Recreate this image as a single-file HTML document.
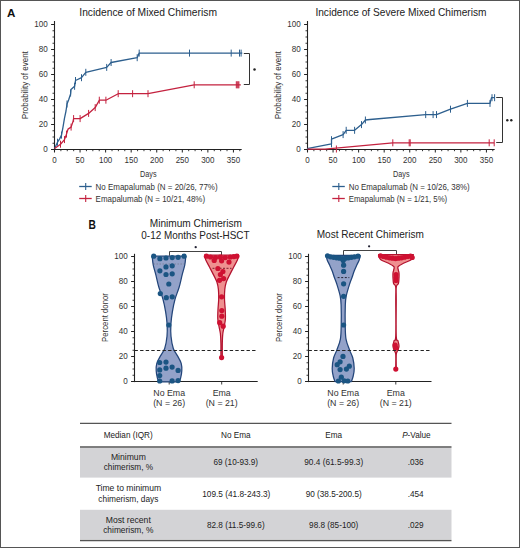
<!DOCTYPE html>
<html><head><meta charset="utf-8"><style>
html,body{margin:0;padding:0;background:#fff;}
body{width:520px;height:548px;position:relative;overflow:hidden;font-family:"Liberation Sans", sans-serif;}
</style></head><body>
<svg width="520" height="548" viewBox="0 0 520 548" style="position:absolute;left:0;top:0" font-family='"Liberation Sans", sans-serif'>
<rect x="0.5" y="0.5" width="519" height="547" fill="none" stroke="#555" stroke-width="1"/>
<text x="7.1" y="17.0" font-size="11.6" text-anchor="start" fill="#111" font-weight="bold" >A</text>
<text x="88.6" y="228.8" font-size="12.4" text-anchor="start" fill="#111" font-weight="bold" textLength="7.4" lengthAdjust="spacingAndGlyphs" >B</text>
<line x1="54.50" y1="21.00" x2="54.50" y2="151.80" stroke="#222" stroke-width="1.1" />
<line x1="51.10" y1="149.50" x2="54.50" y2="149.50" stroke="#222" stroke-width="1" />
<line x1="52.50" y1="143.25" x2="54.50" y2="143.25" stroke="#222" stroke-width="0.9" />
<line x1="52.50" y1="137.00" x2="54.50" y2="137.00" stroke="#222" stroke-width="0.9" />
<line x1="52.50" y1="130.75" x2="54.50" y2="130.75" stroke="#222" stroke-width="0.9" />
<line x1="51.10" y1="124.50" x2="54.50" y2="124.50" stroke="#222" stroke-width="1" />
<line x1="52.50" y1="118.25" x2="54.50" y2="118.25" stroke="#222" stroke-width="0.9" />
<line x1="52.50" y1="112.00" x2="54.50" y2="112.00" stroke="#222" stroke-width="0.9" />
<line x1="52.50" y1="105.75" x2="54.50" y2="105.75" stroke="#222" stroke-width="0.9" />
<line x1="51.10" y1="99.50" x2="54.50" y2="99.50" stroke="#222" stroke-width="1" />
<line x1="52.50" y1="93.25" x2="54.50" y2="93.25" stroke="#222" stroke-width="0.9" />
<line x1="52.50" y1="87.00" x2="54.50" y2="87.00" stroke="#222" stroke-width="0.9" />
<line x1="52.50" y1="80.75" x2="54.50" y2="80.75" stroke="#222" stroke-width="0.9" />
<line x1="51.10" y1="74.50" x2="54.50" y2="74.50" stroke="#222" stroke-width="1" />
<line x1="52.50" y1="68.25" x2="54.50" y2="68.25" stroke="#222" stroke-width="0.9" />
<line x1="52.50" y1="62.00" x2="54.50" y2="62.00" stroke="#222" stroke-width="0.9" />
<line x1="52.50" y1="55.75" x2="54.50" y2="55.75" stroke="#222" stroke-width="0.9" />
<line x1="51.10" y1="49.50" x2="54.50" y2="49.50" stroke="#222" stroke-width="1" />
<line x1="52.50" y1="43.25" x2="54.50" y2="43.25" stroke="#222" stroke-width="0.9" />
<line x1="52.50" y1="37.00" x2="54.50" y2="37.00" stroke="#222" stroke-width="0.9" />
<line x1="52.50" y1="30.75" x2="54.50" y2="30.75" stroke="#222" stroke-width="0.9" />
<line x1="51.10" y1="24.50" x2="54.50" y2="24.50" stroke="#222" stroke-width="1" />
<text x="47.8" y="152.0" font-size="8.8" text-anchor="end" fill="#333" textLength="4.5" lengthAdjust="spacingAndGlyphs" >0</text>
<text x="47.8" y="127.0" font-size="8.8" text-anchor="end" fill="#333" textLength="9.0" lengthAdjust="spacingAndGlyphs" >20</text>
<text x="47.8" y="102.0" font-size="8.8" text-anchor="end" fill="#333" textLength="9.0" lengthAdjust="spacingAndGlyphs" >40</text>
<text x="47.8" y="77.0" font-size="8.8" text-anchor="end" fill="#333" textLength="9.0" lengthAdjust="spacingAndGlyphs" >60</text>
<text x="47.8" y="52.0" font-size="8.8" text-anchor="end" fill="#333" textLength="9.0" lengthAdjust="spacingAndGlyphs" >80</text>
<text x="47.8" y="27.0" font-size="8.8" text-anchor="end" fill="#333" textLength="13.5" lengthAdjust="spacingAndGlyphs" >100</text>
<line x1="51.30" y1="149.50" x2="241.70" y2="149.50" stroke="#222" stroke-width="1.1" />
<line x1="54.50" y1="149.50" x2="54.50" y2="152.50" stroke="#222" stroke-width="1.0" />
<line x1="60.89" y1="149.50" x2="60.89" y2="151.20" stroke="#222" stroke-width="0.9" />
<line x1="67.28" y1="149.50" x2="67.28" y2="151.20" stroke="#222" stroke-width="0.9" />
<line x1="73.67" y1="149.50" x2="73.67" y2="151.20" stroke="#222" stroke-width="0.9" />
<line x1="80.06" y1="149.50" x2="80.06" y2="152.50" stroke="#222" stroke-width="1.0" />
<line x1="86.45" y1="149.50" x2="86.45" y2="151.20" stroke="#222" stroke-width="0.9" />
<line x1="92.84" y1="149.50" x2="92.84" y2="151.20" stroke="#222" stroke-width="0.9" />
<line x1="99.23" y1="149.50" x2="99.23" y2="151.20" stroke="#222" stroke-width="0.9" />
<line x1="105.62" y1="149.50" x2="105.62" y2="152.50" stroke="#222" stroke-width="1.0" />
<line x1="112.01" y1="149.50" x2="112.01" y2="151.20" stroke="#222" stroke-width="0.9" />
<line x1="118.40" y1="149.50" x2="118.40" y2="151.20" stroke="#222" stroke-width="0.9" />
<line x1="124.79" y1="149.50" x2="124.79" y2="151.20" stroke="#222" stroke-width="0.9" />
<line x1="131.18" y1="149.50" x2="131.18" y2="152.50" stroke="#222" stroke-width="1.0" />
<line x1="137.57" y1="149.50" x2="137.57" y2="151.20" stroke="#222" stroke-width="0.9" />
<line x1="143.96" y1="149.50" x2="143.96" y2="151.20" stroke="#222" stroke-width="0.9" />
<line x1="150.35" y1="149.50" x2="150.35" y2="151.20" stroke="#222" stroke-width="0.9" />
<line x1="156.74" y1="149.50" x2="156.74" y2="152.50" stroke="#222" stroke-width="1.0" />
<line x1="163.13" y1="149.50" x2="163.13" y2="151.20" stroke="#222" stroke-width="0.9" />
<line x1="169.52" y1="149.50" x2="169.52" y2="151.20" stroke="#222" stroke-width="0.9" />
<line x1="175.91" y1="149.50" x2="175.91" y2="151.20" stroke="#222" stroke-width="0.9" />
<line x1="182.30" y1="149.50" x2="182.30" y2="152.50" stroke="#222" stroke-width="1.0" />
<line x1="188.69" y1="149.50" x2="188.69" y2="151.20" stroke="#222" stroke-width="0.9" />
<line x1="195.08" y1="149.50" x2="195.08" y2="151.20" stroke="#222" stroke-width="0.9" />
<line x1="201.47" y1="149.50" x2="201.47" y2="151.20" stroke="#222" stroke-width="0.9" />
<line x1="207.86" y1="149.50" x2="207.86" y2="152.50" stroke="#222" stroke-width="1.0" />
<line x1="214.25" y1="149.50" x2="214.25" y2="151.20" stroke="#222" stroke-width="0.9" />
<line x1="220.64" y1="149.50" x2="220.64" y2="151.20" stroke="#222" stroke-width="0.9" />
<line x1="227.03" y1="149.50" x2="227.03" y2="151.20" stroke="#222" stroke-width="0.9" />
<line x1="233.42" y1="149.50" x2="233.42" y2="152.50" stroke="#222" stroke-width="1.0" />
<line x1="239.81" y1="149.50" x2="239.81" y2="151.20" stroke="#222" stroke-width="0.9" />
<text x="54.5" y="162.9" font-size="8.8" text-anchor="middle" fill="#333" textLength="4.45" lengthAdjust="spacingAndGlyphs" >0</text>
<text x="80.06" y="162.9" font-size="8.8" text-anchor="middle" fill="#333" textLength="8.9" lengthAdjust="spacingAndGlyphs" >50</text>
<text x="105.62" y="162.9" font-size="8.8" text-anchor="middle" fill="#333" textLength="13.350000000000001" lengthAdjust="spacingAndGlyphs" >100</text>
<text x="131.18" y="162.9" font-size="8.8" text-anchor="middle" fill="#333" textLength="13.350000000000001" lengthAdjust="spacingAndGlyphs" >150</text>
<text x="156.74" y="162.9" font-size="8.8" text-anchor="middle" fill="#333" textLength="13.350000000000001" lengthAdjust="spacingAndGlyphs" >200</text>
<text x="182.3" y="162.9" font-size="8.8" text-anchor="middle" fill="#333" textLength="13.350000000000001" lengthAdjust="spacingAndGlyphs" >250</text>
<text x="207.85999999999999" y="162.9" font-size="8.8" text-anchor="middle" fill="#333" textLength="13.350000000000001" lengthAdjust="spacingAndGlyphs" >300</text>
<text x="233.42" y="162.9" font-size="8.8" text-anchor="middle" fill="#333" textLength="13.350000000000001" lengthAdjust="spacingAndGlyphs" >350</text>
<text x="148.3" y="176.5" font-size="8.8" text-anchor="middle" fill="#333" textLength="16.5" lengthAdjust="spacingAndGlyphs" >Days</text>
<text x="25.5" y="85.2" font-size="9.5" text-anchor="middle" fill="#333" textLength="68" lengthAdjust="spacingAndGlyphs" transform="rotate(-90 25.5 85.2)" dy="3">Probability of event</text>
<text x="79.3" y="16.3" font-size="10.6" text-anchor="start" fill="#222" textLength="137.7" lengthAdjust="spacingAndGlyphs" >Incidence of Mixed Chimerism</text>
<line x1="79.20" y1="186.50" x2="91.70" y2="186.50" stroke="#2d5f8e" stroke-width="1.3" />
<line x1="85.70" y1="183.00" x2="85.70" y2="190.00" stroke="#2d5f8e" stroke-width="1.1" />
<line x1="79.20" y1="198.50" x2="91.70" y2="198.50" stroke="#c4223f" stroke-width="1.3" />
<line x1="85.70" y1="195.00" x2="85.70" y2="202.00" stroke="#c4223f" stroke-width="1.1" />
<text x="95.6" y="189.6" font-size="8.8" text-anchor="start" fill="#333" textLength="122.0" lengthAdjust="spacingAndGlyphs" >No Emapalumab (N = 20/26, 77%)</text>
<text x="95.6" y="201.6" font-size="8.8" text-anchor="start" fill="#333" textLength="109.5" lengthAdjust="spacingAndGlyphs" >Emapalumab (N = 10/21, 48%)</text>
<polyline points="54.60,148.60 57.50,142.20 59.50,139.10 61.50,135.10 63.00,127.10 64.50,118.10 66.00,111.00 67.00,104.00 68.60,100.00 70.60,94.00 71.00,89.60 74.60,86.30 75.50,80.50 81.50,77.70 85.80,72.30 106.70,67.40 111.10,62.50 137.20,57.70 139.20,53.10 242.30,53.10" fill="none" stroke="#2d5f8e" stroke-width="1.3" stroke-linejoin="round"/>
<polyline points="54.60,148.60 60.50,144.20 64.50,139.60 66.50,134.10 68.00,129.10 71.10,127.10 73.10,121.10 73.60,118.60 80.10,118.60 88.60,113.40 95.20,107.60 99.30,100.20 105.90,100.20 118.20,93.70 132.60,93.70 148.00,93.70 194.20,84.80 240.80,84.80" fill="none" stroke="#c4223f" stroke-width="1.3" stroke-linejoin="round"/>
<line x1="57.50" y1="138.70" x2="57.50" y2="145.70" stroke="#2d5f8e" stroke-width="1.0" />
<line x1="61.50" y1="131.60" x2="61.50" y2="138.60" stroke="#2d5f8e" stroke-width="1.0" />
<line x1="67.00" y1="100.50" x2="67.00" y2="107.50" stroke="#2d5f8e" stroke-width="1.0" />
<line x1="70.60" y1="89.50" x2="70.60" y2="96.50" stroke="#2d5f8e" stroke-width="1.0" />
<line x1="74.60" y1="82.80" x2="74.60" y2="89.80" stroke="#2d5f8e" stroke-width="1.0" />
<line x1="75.50" y1="77.00" x2="75.50" y2="84.00" stroke="#2d5f8e" stroke-width="1.0" />
<line x1="81.50" y1="74.20" x2="81.50" y2="81.20" stroke="#2d5f8e" stroke-width="1.0" />
<line x1="85.80" y1="68.80" x2="85.80" y2="75.80" stroke="#2d5f8e" stroke-width="1.0" />
<line x1="106.70" y1="63.90" x2="106.70" y2="70.90" stroke="#2d5f8e" stroke-width="1.0" />
<line x1="111.10" y1="59.00" x2="111.10" y2="66.00" stroke="#2d5f8e" stroke-width="1.0" />
<line x1="137.20" y1="54.20" x2="137.20" y2="61.20" stroke="#2d5f8e" stroke-width="1.0" />
<line x1="139.20" y1="49.60" x2="139.20" y2="56.60" stroke="#2d5f8e" stroke-width="1.0" />
<line x1="189.50" y1="49.60" x2="189.50" y2="56.60" stroke="#2d5f8e" stroke-width="1.0" />
<line x1="231.20" y1="49.60" x2="231.20" y2="56.60" stroke="#2d5f8e" stroke-width="1.0" />
<line x1="239.50" y1="49.60" x2="239.50" y2="56.60" stroke="#2d5f8e" stroke-width="1.0" />
<line x1="241.10" y1="49.60" x2="241.10" y2="56.60" stroke="#2d5f8e" stroke-width="1.0" />
<line x1="60.50" y1="140.70" x2="60.50" y2="147.70" stroke="#c4223f" stroke-width="1.0" />
<line x1="64.50" y1="136.10" x2="64.50" y2="143.10" stroke="#c4223f" stroke-width="1.0" />
<line x1="66.50" y1="130.60" x2="66.50" y2="137.60" stroke="#c4223f" stroke-width="1.0" />
<line x1="71.10" y1="123.60" x2="71.10" y2="130.60" stroke="#c4223f" stroke-width="1.0" />
<line x1="73.60" y1="115.10" x2="73.60" y2="122.10" stroke="#c4223f" stroke-width="1.0" />
<line x1="80.10" y1="115.10" x2="80.10" y2="122.10" stroke="#c4223f" stroke-width="1.0" />
<line x1="88.60" y1="109.90" x2="88.60" y2="116.90" stroke="#c4223f" stroke-width="1.0" />
<line x1="95.20" y1="104.10" x2="95.20" y2="111.10" stroke="#c4223f" stroke-width="1.0" />
<line x1="99.30" y1="96.70" x2="99.30" y2="103.70" stroke="#c4223f" stroke-width="1.0" />
<line x1="105.90" y1="96.70" x2="105.90" y2="103.70" stroke="#c4223f" stroke-width="1.0" />
<line x1="118.20" y1="90.20" x2="118.20" y2="97.20" stroke="#c4223f" stroke-width="1.0" />
<line x1="132.60" y1="90.20" x2="132.60" y2="97.20" stroke="#c4223f" stroke-width="1.0" />
<line x1="148.00" y1="90.20" x2="148.00" y2="97.20" stroke="#c4223f" stroke-width="1.0" />
<line x1="194.20" y1="81.30" x2="194.20" y2="88.30" stroke="#c4223f" stroke-width="1.0" />
<line x1="236.30" y1="81.30" x2="236.30" y2="88.30" stroke="#c4223f" stroke-width="1.0" />
<line x1="237.20" y1="81.30" x2="237.20" y2="88.30" stroke="#c4223f" stroke-width="1.0" />
<line x1="238.10" y1="81.30" x2="238.10" y2="88.30" stroke="#c4223f" stroke-width="1.0" />
<line x1="238.90" y1="81.30" x2="238.90" y2="88.30" stroke="#c4223f" stroke-width="1.0" />
<polyline points="243.8,53.5 249.5,53.5 249.5,84.5 243.8,84.5" fill="none" stroke="#333" stroke-width="1"/>
<circle cx="254.5" cy="69.4" r="1.25" fill="#222"/>
<line x1="307.50" y1="21.00" x2="307.50" y2="151.80" stroke="#222" stroke-width="1.1" />
<line x1="304.10" y1="149.50" x2="307.50" y2="149.50" stroke="#222" stroke-width="1" />
<line x1="305.50" y1="143.25" x2="307.50" y2="143.25" stroke="#222" stroke-width="0.9" />
<line x1="305.50" y1="137.00" x2="307.50" y2="137.00" stroke="#222" stroke-width="0.9" />
<line x1="305.50" y1="130.75" x2="307.50" y2="130.75" stroke="#222" stroke-width="0.9" />
<line x1="304.10" y1="124.50" x2="307.50" y2="124.50" stroke="#222" stroke-width="1" />
<line x1="305.50" y1="118.25" x2="307.50" y2="118.25" stroke="#222" stroke-width="0.9" />
<line x1="305.50" y1="112.00" x2="307.50" y2="112.00" stroke="#222" stroke-width="0.9" />
<line x1="305.50" y1="105.75" x2="307.50" y2="105.75" stroke="#222" stroke-width="0.9" />
<line x1="304.10" y1="99.50" x2="307.50" y2="99.50" stroke="#222" stroke-width="1" />
<line x1="305.50" y1="93.25" x2="307.50" y2="93.25" stroke="#222" stroke-width="0.9" />
<line x1="305.50" y1="87.00" x2="307.50" y2="87.00" stroke="#222" stroke-width="0.9" />
<line x1="305.50" y1="80.75" x2="307.50" y2="80.75" stroke="#222" stroke-width="0.9" />
<line x1="304.10" y1="74.50" x2="307.50" y2="74.50" stroke="#222" stroke-width="1" />
<line x1="305.50" y1="68.25" x2="307.50" y2="68.25" stroke="#222" stroke-width="0.9" />
<line x1="305.50" y1="62.00" x2="307.50" y2="62.00" stroke="#222" stroke-width="0.9" />
<line x1="305.50" y1="55.75" x2="307.50" y2="55.75" stroke="#222" stroke-width="0.9" />
<line x1="304.10" y1="49.50" x2="307.50" y2="49.50" stroke="#222" stroke-width="1" />
<line x1="305.50" y1="43.25" x2="307.50" y2="43.25" stroke="#222" stroke-width="0.9" />
<line x1="305.50" y1="37.00" x2="307.50" y2="37.00" stroke="#222" stroke-width="0.9" />
<line x1="305.50" y1="30.75" x2="307.50" y2="30.75" stroke="#222" stroke-width="0.9" />
<line x1="304.10" y1="24.50" x2="307.50" y2="24.50" stroke="#222" stroke-width="1" />
<text x="300.8" y="152.0" font-size="8.8" text-anchor="end" fill="#333" textLength="4.5" lengthAdjust="spacingAndGlyphs" >0</text>
<text x="300.8" y="127.0" font-size="8.8" text-anchor="end" fill="#333" textLength="9.0" lengthAdjust="spacingAndGlyphs" >20</text>
<text x="300.8" y="102.0" font-size="8.8" text-anchor="end" fill="#333" textLength="9.0" lengthAdjust="spacingAndGlyphs" >40</text>
<text x="300.8" y="77.0" font-size="8.8" text-anchor="end" fill="#333" textLength="9.0" lengthAdjust="spacingAndGlyphs" >60</text>
<text x="300.8" y="52.0" font-size="8.8" text-anchor="end" fill="#333" textLength="9.0" lengthAdjust="spacingAndGlyphs" >80</text>
<text x="300.8" y="27.0" font-size="8.8" text-anchor="end" fill="#333" textLength="13.5" lengthAdjust="spacingAndGlyphs" >100</text>
<line x1="304.30" y1="149.50" x2="494.70" y2="149.50" stroke="#222" stroke-width="1.1" />
<line x1="307.50" y1="149.50" x2="307.50" y2="152.50" stroke="#222" stroke-width="1.0" />
<line x1="313.89" y1="149.50" x2="313.89" y2="151.20" stroke="#222" stroke-width="0.9" />
<line x1="320.28" y1="149.50" x2="320.28" y2="151.20" stroke="#222" stroke-width="0.9" />
<line x1="326.67" y1="149.50" x2="326.67" y2="151.20" stroke="#222" stroke-width="0.9" />
<line x1="333.06" y1="149.50" x2="333.06" y2="152.50" stroke="#222" stroke-width="1.0" />
<line x1="339.45" y1="149.50" x2="339.45" y2="151.20" stroke="#222" stroke-width="0.9" />
<line x1="345.84" y1="149.50" x2="345.84" y2="151.20" stroke="#222" stroke-width="0.9" />
<line x1="352.23" y1="149.50" x2="352.23" y2="151.20" stroke="#222" stroke-width="0.9" />
<line x1="358.62" y1="149.50" x2="358.62" y2="152.50" stroke="#222" stroke-width="1.0" />
<line x1="365.01" y1="149.50" x2="365.01" y2="151.20" stroke="#222" stroke-width="0.9" />
<line x1="371.40" y1="149.50" x2="371.40" y2="151.20" stroke="#222" stroke-width="0.9" />
<line x1="377.79" y1="149.50" x2="377.79" y2="151.20" stroke="#222" stroke-width="0.9" />
<line x1="384.18" y1="149.50" x2="384.18" y2="152.50" stroke="#222" stroke-width="1.0" />
<line x1="390.57" y1="149.50" x2="390.57" y2="151.20" stroke="#222" stroke-width="0.9" />
<line x1="396.96" y1="149.50" x2="396.96" y2="151.20" stroke="#222" stroke-width="0.9" />
<line x1="403.35" y1="149.50" x2="403.35" y2="151.20" stroke="#222" stroke-width="0.9" />
<line x1="409.74" y1="149.50" x2="409.74" y2="152.50" stroke="#222" stroke-width="1.0" />
<line x1="416.13" y1="149.50" x2="416.13" y2="151.20" stroke="#222" stroke-width="0.9" />
<line x1="422.52" y1="149.50" x2="422.52" y2="151.20" stroke="#222" stroke-width="0.9" />
<line x1="428.91" y1="149.50" x2="428.91" y2="151.20" stroke="#222" stroke-width="0.9" />
<line x1="435.30" y1="149.50" x2="435.30" y2="152.50" stroke="#222" stroke-width="1.0" />
<line x1="441.69" y1="149.50" x2="441.69" y2="151.20" stroke="#222" stroke-width="0.9" />
<line x1="448.08" y1="149.50" x2="448.08" y2="151.20" stroke="#222" stroke-width="0.9" />
<line x1="454.47" y1="149.50" x2="454.47" y2="151.20" stroke="#222" stroke-width="0.9" />
<line x1="460.86" y1="149.50" x2="460.86" y2="152.50" stroke="#222" stroke-width="1.0" />
<line x1="467.25" y1="149.50" x2="467.25" y2="151.20" stroke="#222" stroke-width="0.9" />
<line x1="473.64" y1="149.50" x2="473.64" y2="151.20" stroke="#222" stroke-width="0.9" />
<line x1="480.03" y1="149.50" x2="480.03" y2="151.20" stroke="#222" stroke-width="0.9" />
<line x1="486.42" y1="149.50" x2="486.42" y2="152.50" stroke="#222" stroke-width="1.0" />
<line x1="492.81" y1="149.50" x2="492.81" y2="151.20" stroke="#222" stroke-width="0.9" />
<text x="307.5" y="162.9" font-size="8.8" text-anchor="middle" fill="#333" textLength="4.45" lengthAdjust="spacingAndGlyphs" >0</text>
<text x="333.06" y="162.9" font-size="8.8" text-anchor="middle" fill="#333" textLength="8.9" lengthAdjust="spacingAndGlyphs" >50</text>
<text x="358.62" y="162.9" font-size="8.8" text-anchor="middle" fill="#333" textLength="13.350000000000001" lengthAdjust="spacingAndGlyphs" >100</text>
<text x="384.18" y="162.9" font-size="8.8" text-anchor="middle" fill="#333" textLength="13.350000000000001" lengthAdjust="spacingAndGlyphs" >150</text>
<text x="409.74" y="162.9" font-size="8.8" text-anchor="middle" fill="#333" textLength="13.350000000000001" lengthAdjust="spacingAndGlyphs" >200</text>
<text x="435.3" y="162.9" font-size="8.8" text-anchor="middle" fill="#333" textLength="13.350000000000001" lengthAdjust="spacingAndGlyphs" >250</text>
<text x="460.86" y="162.9" font-size="8.8" text-anchor="middle" fill="#333" textLength="13.350000000000001" lengthAdjust="spacingAndGlyphs" >300</text>
<text x="486.41999999999996" y="162.9" font-size="8.8" text-anchor="middle" fill="#333" textLength="13.350000000000001" lengthAdjust="spacingAndGlyphs" >350</text>
<text x="401.3" y="176.5" font-size="8.8" text-anchor="middle" fill="#333" textLength="16.5" lengthAdjust="spacingAndGlyphs" >Days</text>
<text x="278.5" y="85.2" font-size="9.5" text-anchor="middle" fill="#333" textLength="68" lengthAdjust="spacingAndGlyphs" transform="rotate(-90 278.5 85.2)" dy="3">Probability of event</text>
<text x="315.4" y="16.3" font-size="10.6" text-anchor="start" fill="#222" textLength="171.10000000000002" lengthAdjust="spacingAndGlyphs" >Incidence of Severe Mixed Chimerism</text>
<line x1="332.30" y1="186.50" x2="344.80" y2="186.50" stroke="#2d5f8e" stroke-width="1.3" />
<line x1="338.80" y1="183.00" x2="338.80" y2="190.00" stroke="#2d5f8e" stroke-width="1.1" />
<line x1="332.30" y1="198.50" x2="344.80" y2="198.50" stroke="#c4223f" stroke-width="1.3" />
<line x1="338.80" y1="195.00" x2="338.80" y2="202.00" stroke="#c4223f" stroke-width="1.1" />
<text x="348.7" y="189.6" font-size="8.8" text-anchor="start" fill="#333" textLength="121.0" lengthAdjust="spacingAndGlyphs" >No Emapalumab (N = 10/26, 38%)</text>
<text x="348.7" y="201.6" font-size="8.8" text-anchor="start" fill="#333" textLength="98.5" lengthAdjust="spacingAndGlyphs" >Emapalumab (N = 1/21, 5%)</text>
<polyline points="307.00,148.60 331.50,143.80 331.50,139.20 343.10,134.60 346.20,130.30 354.60,130.30 361.50,124.60 365.40,120.00 370.00,119.50 425.70,114.60 436.50,114.60 450.50,109.20 467.40,103.40 490.00,103.40 491.50,97.70 494.60,97.70" fill="none" stroke="#2d5f8e" stroke-width="1.3" stroke-linejoin="round"/>
<polyline points="307.50,149.20 325.00,149.20 392.80,142.80 494.20,142.80" fill="none" stroke="#c4223f" stroke-width="1.3" stroke-linejoin="round"/>
<line x1="331.50" y1="136.20" x2="331.50" y2="147.30" stroke="#2d5f8e" stroke-width="1.0" />
<line x1="343.10" y1="131.10" x2="343.10" y2="138.10" stroke="#2d5f8e" stroke-width="1.0" />
<line x1="346.20" y1="126.80" x2="346.20" y2="133.80" stroke="#2d5f8e" stroke-width="1.0" />
<line x1="354.60" y1="126.80" x2="354.60" y2="133.80" stroke="#2d5f8e" stroke-width="1.0" />
<line x1="361.50" y1="121.10" x2="361.50" y2="128.10" stroke="#2d5f8e" stroke-width="1.0" />
<line x1="365.40" y1="116.50" x2="365.40" y2="123.50" stroke="#2d5f8e" stroke-width="1.0" />
<line x1="425.70" y1="111.10" x2="425.70" y2="118.10" stroke="#2d5f8e" stroke-width="1.0" />
<line x1="433.10" y1="111.10" x2="433.10" y2="118.10" stroke="#2d5f8e" stroke-width="1.0" />
<line x1="436.50" y1="111.10" x2="436.50" y2="118.10" stroke="#2d5f8e" stroke-width="1.0" />
<line x1="450.50" y1="105.70" x2="450.50" y2="112.70" stroke="#2d5f8e" stroke-width="1.0" />
<line x1="467.40" y1="99.90" x2="467.40" y2="106.90" stroke="#2d5f8e" stroke-width="1.0" />
<line x1="490.00" y1="99.90" x2="490.00" y2="106.90" stroke="#2d5f8e" stroke-width="1.0" />
<line x1="492.00" y1="94.20" x2="492.00" y2="101.20" stroke="#2d5f8e" stroke-width="1.0" />
<line x1="494.60" y1="94.20" x2="494.60" y2="101.20" stroke="#2d5f8e" stroke-width="1.0" />
<line x1="336.40" y1="145.50" x2="336.40" y2="152.50" stroke="#c4223f" stroke-width="1.0" />
<line x1="392.80" y1="139.30" x2="392.80" y2="146.30" stroke="#c4223f" stroke-width="1.0" />
<line x1="409.20" y1="139.30" x2="409.20" y2="146.30" stroke="#c4223f" stroke-width="1.0" />
<line x1="410.20" y1="139.30" x2="410.20" y2="146.30" stroke="#c4223f" stroke-width="1.0" />
<line x1="489.20" y1="139.30" x2="489.20" y2="146.30" stroke="#c4223f" stroke-width="1.0" />
<line x1="494.20" y1="139.30" x2="494.20" y2="146.30" stroke="#c4223f" stroke-width="1.0" />
<polyline points="496.2,97.5 502.5,97.5 502.5,142.5 496.2,142.5" fill="none" stroke="#333" stroke-width="1"/>
<circle cx="507.3" cy="120.3" r="1.2" fill="#222"/><circle cx="511.3" cy="120.3" r="1.2" fill="#222"/>
<line x1="134.50" y1="253.80" x2="134.50" y2="382.10" stroke="#222" stroke-width="1.1" />
<line x1="131.10" y1="381.50" x2="134.50" y2="381.50" stroke="#222" stroke-width="1" />
<line x1="132.50" y1="375.25" x2="134.50" y2="375.25" stroke="#222" stroke-width="0.9" />
<line x1="132.50" y1="369.00" x2="134.50" y2="369.00" stroke="#222" stroke-width="0.9" />
<line x1="132.50" y1="362.75" x2="134.50" y2="362.75" stroke="#222" stroke-width="0.9" />
<line x1="131.10" y1="356.50" x2="134.50" y2="356.50" stroke="#222" stroke-width="1" />
<line x1="132.50" y1="350.25" x2="134.50" y2="350.25" stroke="#222" stroke-width="0.9" />
<line x1="132.50" y1="344.00" x2="134.50" y2="344.00" stroke="#222" stroke-width="0.9" />
<line x1="132.50" y1="337.75" x2="134.50" y2="337.75" stroke="#222" stroke-width="0.9" />
<line x1="131.10" y1="331.50" x2="134.50" y2="331.50" stroke="#222" stroke-width="1" />
<line x1="132.50" y1="325.25" x2="134.50" y2="325.25" stroke="#222" stroke-width="0.9" />
<line x1="132.50" y1="319.00" x2="134.50" y2="319.00" stroke="#222" stroke-width="0.9" />
<line x1="132.50" y1="312.75" x2="134.50" y2="312.75" stroke="#222" stroke-width="0.9" />
<line x1="131.10" y1="306.50" x2="134.50" y2="306.50" stroke="#222" stroke-width="1" />
<line x1="132.50" y1="300.25" x2="134.50" y2="300.25" stroke="#222" stroke-width="0.9" />
<line x1="132.50" y1="294.00" x2="134.50" y2="294.00" stroke="#222" stroke-width="0.9" />
<line x1="132.50" y1="287.75" x2="134.50" y2="287.75" stroke="#222" stroke-width="0.9" />
<line x1="131.10" y1="281.50" x2="134.50" y2="281.50" stroke="#222" stroke-width="1" />
<line x1="132.50" y1="275.25" x2="134.50" y2="275.25" stroke="#222" stroke-width="0.9" />
<line x1="132.50" y1="269.00" x2="134.50" y2="269.00" stroke="#222" stroke-width="0.9" />
<line x1="132.50" y1="262.75" x2="134.50" y2="262.75" stroke="#222" stroke-width="0.9" />
<line x1="131.10" y1="256.50" x2="134.50" y2="256.50" stroke="#222" stroke-width="1" />
<text x="127.7" y="384.4" font-size="8.8" text-anchor="end" fill="#333" textLength="4.5" lengthAdjust="spacingAndGlyphs" >0</text>
<text x="127.7" y="359.4" font-size="8.8" text-anchor="end" fill="#333" textLength="9.0" lengthAdjust="spacingAndGlyphs" >20</text>
<text x="127.7" y="334.4" font-size="8.8" text-anchor="end" fill="#333" textLength="9.0" lengthAdjust="spacingAndGlyphs" >40</text>
<text x="127.7" y="309.4" font-size="8.8" text-anchor="end" fill="#333" textLength="9.0" lengthAdjust="spacingAndGlyphs" >60</text>
<text x="127.7" y="284.4" font-size="8.8" text-anchor="end" fill="#333" textLength="9.0" lengthAdjust="spacingAndGlyphs" >80</text>
<text x="127.7" y="259.4" font-size="8.8" text-anchor="end" fill="#333" textLength="13.5" lengthAdjust="spacingAndGlyphs" >100</text>
<line x1="131.30" y1="381.50" x2="257.70" y2="381.50" stroke="#222" stroke-width="1.1" />
<line x1="169.20" y1="381.50" x2="169.20" y2="384.50" stroke="#222" stroke-width="0.9" />
<text x="169.2" y="395.5" font-size="8.8" text-anchor="middle" fill="#333" >No Ema</text>
<text x="169.2" y="405.5" font-size="8.8" text-anchor="middle" fill="#333" >(N = 26)</text>
<line x1="221.70" y1="381.50" x2="221.70" y2="384.50" stroke="#222" stroke-width="0.9" />
<text x="221.7" y="395.5" font-size="8.8" text-anchor="middle" fill="#333" >Ema</text>
<text x="221.7" y="405.5" font-size="8.8" text-anchor="middle" fill="#333" >(N = 21)</text>
<text x="104.8" y="317.5" font-size="9.5" text-anchor="middle" fill="#333" textLength="48.8" lengthAdjust="spacingAndGlyphs" transform="rotate(-90 104.8 317.5)" dy="3">Percent donor</text>
<text x="149.8" y="227.1" font-size="10.4" text-anchor="start" fill="#222" textLength="92.1" lengthAdjust="spacingAndGlyphs" >Minimum Chimerism</text>
<text x="141.3" y="238.7" font-size="10.4" text-anchor="start" fill="#222" textLength="108.3" lengthAdjust="spacingAndGlyphs" >0-12 Months Post-HSCT</text>
<polyline points="169.5,255.8 169.5,251.5 221.5,251.5 221.5,255.8" fill="none" stroke="#444" stroke-width="1"/>
<circle cx="195.7" cy="247.2" r="1.15" fill="#223"/>
<path d="M185.80,256.20 C185.63,257.63 185.40,261.73 184.80,264.80 C184.20,267.87 183.13,270.90 182.20,274.60 C181.27,278.30 180.40,282.88 179.20,287.00 C178.00,291.12 176.13,295.20 175.00,299.30 C173.87,303.40 173.08,307.50 172.40,311.60 C171.72,315.70 171.13,319.80 170.90,323.90 C170.67,328.00 170.60,332.10 171.00,336.20 C171.40,340.30 172.22,345.22 173.30,348.50 C174.38,351.78 176.18,353.43 177.50,355.90 C178.82,358.37 180.48,360.83 181.20,363.30 C181.92,365.77 181.90,368.23 181.80,370.70 C181.70,373.17 181.07,376.25 180.60,378.10 C180.13,379.95 179.27,381.18 179.00,381.80 L159.00,381.80 C158.73,381.18 157.87,379.95 157.40,378.10 C156.93,376.25 156.30,373.17 156.20,370.70 C156.10,368.23 156.08,365.77 156.80,363.30 C157.52,360.83 159.18,358.37 160.50,355.90 C161.82,353.43 163.62,351.78 164.70,348.50 C165.78,345.22 166.60,340.30 167.00,336.20 C167.40,332.10 167.33,328.00 167.10,323.90 C166.87,319.80 166.28,315.70 165.60,311.60 C164.92,307.50 164.13,303.40 163.00,299.30 C161.87,295.20 160.00,291.12 158.80,287.00 C157.60,282.88 156.73,278.30 155.80,274.60 C154.87,270.90 153.80,267.87 153.20,264.80 C152.60,261.73 152.37,257.63 152.20,256.20 Z" fill="#93a2c9" stroke="#23457a" stroke-width="1.25" stroke-linejoin="round"/>
<path d="M238.60,255.20 C238.40,255.98 238.23,257.90 237.40,259.90 C236.57,261.90 234.87,264.75 233.60,267.20 C232.33,269.65 231.02,272.13 229.80,274.60 C228.58,277.07 227.13,279.53 226.30,282.00 C225.47,284.47 225.10,286.52 224.80,289.40 C224.50,292.28 224.43,296.02 224.50,299.30 C224.57,302.58 225.05,305.82 225.20,309.10 C225.35,312.38 225.57,316.12 225.40,319.00 C225.23,321.88 224.63,323.95 224.20,326.40 C223.77,328.85 223.12,330.83 222.80,333.70 C222.48,336.57 222.38,340.32 222.30,343.60 C222.22,346.88 222.30,351.07 222.30,353.40 C222.30,355.73 222.30,356.90 222.30,357.60 L220.90,357.60 C220.90,356.90 220.90,355.73 220.90,353.40 C220.90,351.07 220.98,346.88 220.90,343.60 C220.82,340.32 220.72,336.57 220.40,333.70 C220.08,330.83 219.43,328.85 219.00,326.40 C218.57,323.95 217.97,321.88 217.80,319.00 C217.63,316.12 217.85,312.38 218.00,309.10 C218.15,305.82 218.63,302.58 218.70,299.30 C218.77,296.02 218.70,292.28 218.40,289.40 C218.10,286.52 217.73,284.47 216.90,282.00 C216.07,279.53 214.62,277.07 213.40,274.60 C212.18,272.13 210.87,269.65 209.60,267.20 C208.33,264.75 206.63,261.90 205.80,259.90 C204.97,257.90 204.80,255.98 204.60,255.20 Z" fill="#ef9090" stroke="#b3132f" stroke-width="1.25" stroke-linejoin="round"/>
<line x1="153.5" y1="264" x2="184.5" y2="264" stroke="#555" stroke-width="0.6" stroke-dasharray="1.5 1.5" opacity="0.6"/>
<line x1="212.5" y1="268.3" x2="231.5" y2="268.3" stroke="#6a1020" stroke-width="0.9" stroke-dasharray="2 1.5"/>
<circle cx="153.70" cy="256.20" r="2.6" fill="#1b5583"/>
<circle cx="159.90" cy="258.70" r="2.6" fill="#1b5583"/>
<circle cx="166.00" cy="258.00" r="2.6" fill="#1b5583"/>
<circle cx="172.20" cy="257.60" r="2.6" fill="#1b5583"/>
<circle cx="178.10" cy="257.30" r="2.6" fill="#1b5583"/>
<circle cx="184.10" cy="256.20" r="2.6" fill="#1b5583"/>
<circle cx="166.00" cy="266.90" r="2.6" fill="#1b5583"/>
<circle cx="172.20" cy="265.80" r="2.6" fill="#1b5583"/>
<circle cx="159.90" cy="270.80" r="2.6" fill="#1b5583"/>
<circle cx="166.00" cy="274.50" r="2.6" fill="#1b5583"/>
<circle cx="172.20" cy="273.80" r="2.6" fill="#1b5583"/>
<circle cx="168.80" cy="284.00" r="2.6" fill="#1b5583"/>
<circle cx="160.30" cy="293.60" r="2.6" fill="#1b5583"/>
<circle cx="166.30" cy="297.70" r="2.6" fill="#1b5583"/>
<circle cx="172.20" cy="296.80" r="2.6" fill="#1b5583"/>
<circle cx="168.80" cy="325.00" r="2.6" fill="#1b5583"/>
<circle cx="159.70" cy="362.50" r="2.6" fill="#1b5583"/>
<circle cx="166.00" cy="362.10" r="2.6" fill="#1b5583"/>
<circle cx="159.70" cy="369.90" r="2.6" fill="#1b5583"/>
<circle cx="166.00" cy="368.20" r="2.6" fill="#1b5583"/>
<circle cx="172.10" cy="367.10" r="2.6" fill="#1b5583"/>
<circle cx="178.10" cy="370.40" r="2.6" fill="#1b5583"/>
<circle cx="159.70" cy="375.60" r="2.6" fill="#1b5583"/>
<circle cx="159.70" cy="381.00" r="2.6" fill="#1b5583"/>
<circle cx="172.10" cy="380.90" r="2.6" fill="#1b5583"/>
<circle cx="178.10" cy="380.60" r="2.6" fill="#1b5583"/>
<circle cx="206.40" cy="256.20" r="2.6" fill="#cf1132"/>
<circle cx="210.50" cy="257.00" r="2.6" fill="#cf1132"/>
<circle cx="215.50" cy="257.60" r="2.6" fill="#cf1132"/>
<circle cx="220.40" cy="257.20" r="2.6" fill="#cf1132"/>
<circle cx="225.30" cy="257.60" r="2.6" fill="#cf1132"/>
<circle cx="230.30" cy="257.00" r="2.6" fill="#cf1132"/>
<circle cx="233.90" cy="256.60" r="2.6" fill="#cf1132"/>
<circle cx="236.90" cy="256.20" r="2.6" fill="#cf1132"/>
<circle cx="214.20" cy="260.50" r="2.6" fill="#cf1132"/>
<circle cx="221.60" cy="260.80" r="2.6" fill="#cf1132"/>
<circle cx="229.00" cy="262.10" r="2.6" fill="#cf1132"/>
<circle cx="217.90" cy="268.50" r="2.6" fill="#cf1132"/>
<circle cx="222.90" cy="271.50" r="2.6" fill="#cf1132"/>
<circle cx="220.40" cy="274.60" r="2.6" fill="#cf1132"/>
<circle cx="223.60" cy="278.60" r="2.6" fill="#cf1132"/>
<circle cx="219.50" cy="280.30" r="2.6" fill="#cf1132"/>
<circle cx="221.60" cy="296.80" r="2.6" fill="#cf1132"/>
<circle cx="221.80" cy="310.50" r="2.6" fill="#cf1132"/>
<circle cx="221.80" cy="316.20" r="2.6" fill="#cf1132"/>
<circle cx="219.70" cy="322.70" r="2.6" fill="#cf1132"/>
<circle cx="223.20" cy="326.20" r="2.6" fill="#cf1132"/>
<circle cx="221.60" cy="357.60" r="2.6" fill="#cf1132"/>
<line x1="134.5" y1="350.5" x2="255.6" y2="350.5" stroke="#222" stroke-width="1" stroke-dasharray="3.4 2.2"/>
<line x1="308.50" y1="253.80" x2="308.50" y2="382.10" stroke="#222" stroke-width="1.1" />
<line x1="305.10" y1="381.50" x2="308.50" y2="381.50" stroke="#222" stroke-width="1" />
<line x1="306.50" y1="375.25" x2="308.50" y2="375.25" stroke="#222" stroke-width="0.9" />
<line x1="306.50" y1="369.00" x2="308.50" y2="369.00" stroke="#222" stroke-width="0.9" />
<line x1="306.50" y1="362.75" x2="308.50" y2="362.75" stroke="#222" stroke-width="0.9" />
<line x1="305.10" y1="356.50" x2="308.50" y2="356.50" stroke="#222" stroke-width="1" />
<line x1="306.50" y1="350.25" x2="308.50" y2="350.25" stroke="#222" stroke-width="0.9" />
<line x1="306.50" y1="344.00" x2="308.50" y2="344.00" stroke="#222" stroke-width="0.9" />
<line x1="306.50" y1="337.75" x2="308.50" y2="337.75" stroke="#222" stroke-width="0.9" />
<line x1="305.10" y1="331.50" x2="308.50" y2="331.50" stroke="#222" stroke-width="1" />
<line x1="306.50" y1="325.25" x2="308.50" y2="325.25" stroke="#222" stroke-width="0.9" />
<line x1="306.50" y1="319.00" x2="308.50" y2="319.00" stroke="#222" stroke-width="0.9" />
<line x1="306.50" y1="312.75" x2="308.50" y2="312.75" stroke="#222" stroke-width="0.9" />
<line x1="305.10" y1="306.50" x2="308.50" y2="306.50" stroke="#222" stroke-width="1" />
<line x1="306.50" y1="300.25" x2="308.50" y2="300.25" stroke="#222" stroke-width="0.9" />
<line x1="306.50" y1="294.00" x2="308.50" y2="294.00" stroke="#222" stroke-width="0.9" />
<line x1="306.50" y1="287.75" x2="308.50" y2="287.75" stroke="#222" stroke-width="0.9" />
<line x1="305.10" y1="281.50" x2="308.50" y2="281.50" stroke="#222" stroke-width="1" />
<line x1="306.50" y1="275.25" x2="308.50" y2="275.25" stroke="#222" stroke-width="0.9" />
<line x1="306.50" y1="269.00" x2="308.50" y2="269.00" stroke="#222" stroke-width="0.9" />
<line x1="306.50" y1="262.75" x2="308.50" y2="262.75" stroke="#222" stroke-width="0.9" />
<line x1="305.10" y1="256.50" x2="308.50" y2="256.50" stroke="#222" stroke-width="1" />
<text x="301.7" y="384.4" font-size="8.8" text-anchor="end" fill="#333" textLength="4.5" lengthAdjust="spacingAndGlyphs" >0</text>
<text x="301.7" y="359.4" font-size="8.8" text-anchor="end" fill="#333" textLength="9.0" lengthAdjust="spacingAndGlyphs" >20</text>
<text x="301.7" y="334.4" font-size="8.8" text-anchor="end" fill="#333" textLength="9.0" lengthAdjust="spacingAndGlyphs" >40</text>
<text x="301.7" y="309.4" font-size="8.8" text-anchor="end" fill="#333" textLength="9.0" lengthAdjust="spacingAndGlyphs" >60</text>
<text x="301.7" y="284.4" font-size="8.8" text-anchor="end" fill="#333" textLength="9.0" lengthAdjust="spacingAndGlyphs" >80</text>
<text x="301.7" y="259.4" font-size="8.8" text-anchor="end" fill="#333" textLength="13.5" lengthAdjust="spacingAndGlyphs" >100</text>
<line x1="305.30" y1="381.50" x2="431.50" y2="381.50" stroke="#222" stroke-width="1.1" />
<line x1="343.20" y1="381.50" x2="343.20" y2="384.50" stroke="#222" stroke-width="0.9" />
<text x="343.2" y="395.5" font-size="8.8" text-anchor="middle" fill="#333" >No Ema</text>
<text x="343.2" y="405.5" font-size="8.8" text-anchor="middle" fill="#333" >(N = 26)</text>
<line x1="395.80" y1="381.50" x2="395.80" y2="384.50" stroke="#222" stroke-width="0.9" />
<text x="395.8" y="395.5" font-size="8.8" text-anchor="middle" fill="#333" >Ema</text>
<text x="395.8" y="405.5" font-size="8.8" text-anchor="middle" fill="#333" >(N = 21)</text>
<text x="279.3" y="317.5" font-size="9.5" text-anchor="middle" fill="#333" textLength="48.8" lengthAdjust="spacingAndGlyphs" transform="rotate(-90 279.3 317.5)" dy="3">Percent donor</text>
<text x="316.7" y="237.6" font-size="10.4" text-anchor="start" fill="#222" textLength="107.1" lengthAdjust="spacingAndGlyphs" >Most Recent Chimerism</text>
<polyline points="343.5,255.8 343.5,250.5 396.5,250.5 396.5,255.8" fill="none" stroke="#444" stroke-width="1"/>
<circle cx="369.1" cy="246.3" r="1.15" fill="#223"/>
<path d="M360.20,255.30 C360.03,256.08 359.77,258.38 359.20,260.00 C358.63,261.62 357.63,263.17 356.80,265.00 C355.97,266.83 355.00,268.92 354.20,271.00 C353.40,273.08 352.77,275.33 352.00,277.50 C351.23,279.67 350.57,280.92 349.60,284.00 C348.63,287.08 346.92,292.50 346.20,296.00 C345.48,299.50 345.47,300.17 345.30,305.00 C345.13,309.83 345.08,319.30 345.20,325.00 C345.32,330.70 345.27,335.02 346.00,339.20 C346.73,343.38 348.47,346.97 349.60,350.10 C350.73,353.23 352.03,354.95 352.80,358.00 C353.57,361.05 354.13,365.40 354.20,368.40 C354.27,371.40 353.67,373.82 353.20,376.00 C352.73,378.18 351.70,380.58 351.40,381.50 L335.00,381.50 C334.70,380.58 333.67,378.18 333.20,376.00 C332.73,373.82 332.13,371.40 332.20,368.40 C332.27,365.40 332.83,361.05 333.60,358.00 C334.37,354.95 335.67,353.23 336.80,350.10 C337.93,346.97 339.67,343.38 340.40,339.20 C341.13,335.02 341.08,330.70 341.20,325.00 C341.32,319.30 341.27,309.83 341.10,305.00 C340.93,300.17 340.92,299.50 340.20,296.00 C339.48,292.50 337.77,287.08 336.80,284.00 C335.83,280.92 335.17,279.67 334.40,277.50 C333.63,275.33 333.00,273.08 332.20,271.00 C331.40,268.92 330.43,266.83 329.60,265.00 C328.77,263.17 327.77,261.62 327.20,260.00 C326.63,258.38 326.37,256.08 326.20,255.30 Z" fill="#93a2c9" stroke="#23457a" stroke-width="1.25" stroke-linejoin="round"/>
<path d="M413.40,254.60 C413.08,255.42 413.07,258.10 411.50,259.50 C409.93,260.90 406.22,261.83 404.00,263.00 C401.78,264.17 399.15,265.33 398.20,266.50 C397.25,267.67 398.17,268.92 398.30,270.00 C398.43,271.08 398.88,271.67 399.00,273.00 C399.12,274.33 399.10,276.25 399.00,278.00 C398.90,279.75 398.85,282.00 398.40,283.50 C397.95,285.00 396.66,284.25 396.30,287.00 C395.94,289.75 396.26,291.83 396.25,300.00 C396.24,308.17 395.96,329.17 396.25,336.00 C396.54,342.83 397.54,339.33 398.00,341.00 C398.46,342.67 399.00,344.50 399.00,346.00 C399.00,347.50 398.45,348.67 398.00,350.00 C397.55,351.33 396.59,351.17 396.30,354.00 C396.01,356.83 396.27,364.42 396.25,367.00 C396.23,369.58 396.21,369.08 396.20,369.50 L395.80,369.50 C395.79,369.08 395.77,369.58 395.75,367.00 C395.73,364.42 395.99,356.83 395.70,354.00 C395.41,351.17 394.45,351.33 394.00,350.00 C393.55,348.67 393.00,347.50 393.00,346.00 C393.00,344.50 393.54,342.67 394.00,341.00 C394.46,339.33 395.46,342.83 395.75,336.00 C396.04,329.17 395.76,308.17 395.75,300.00 C395.74,291.83 396.06,289.75 395.70,287.00 C395.34,284.25 394.05,285.00 393.60,283.50 C393.15,282.00 393.10,279.75 393.00,278.00 C392.90,276.25 392.88,274.33 393.00,273.00 C393.12,271.67 393.57,271.08 393.70,270.00 C393.83,268.92 394.75,267.67 393.80,266.50 C392.85,265.33 390.22,264.17 388.00,263.00 C385.78,261.83 382.07,260.90 380.50,259.50 C378.93,258.10 378.92,255.42 378.60,254.60 Z" fill="#ef9090" stroke="#b3132f" stroke-width="1.25" stroke-linejoin="round"/>
<circle cx="327.50" cy="255.80" r="2.6" fill="#1b5583"/>
<circle cx="330.50" cy="256.80" r="2.6" fill="#1b5583"/>
<circle cx="333.50" cy="257.30" r="2.6" fill="#1b5583"/>
<circle cx="336.50" cy="257.80" r="2.6" fill="#1b5583"/>
<circle cx="339.50" cy="258.20" r="2.6" fill="#1b5583"/>
<circle cx="342.50" cy="258.60" r="2.6" fill="#1b5583"/>
<circle cx="345.50" cy="258.20" r="2.6" fill="#1b5583"/>
<circle cx="348.50" cy="257.80" r="2.6" fill="#1b5583"/>
<circle cx="351.50" cy="257.30" r="2.6" fill="#1b5583"/>
<circle cx="354.50" cy="256.80" r="2.6" fill="#1b5583"/>
<circle cx="358.00" cy="256.20" r="2.6" fill="#1b5583"/>
<circle cx="343.20" cy="260.50" r="2.6" fill="#1b5583"/>
<circle cx="343.60" cy="265.20" r="2.6" fill="#1b5583"/>
<circle cx="343.60" cy="271.40" r="2.6" fill="#1b5583"/>
<circle cx="343.60" cy="283.80" r="2.6" fill="#1b5583"/>
<circle cx="343.60" cy="296.30" r="2.6" fill="#1b5583"/>
<circle cx="343.60" cy="325.00" r="2.6" fill="#1b5583"/>
<circle cx="343.00" cy="356.40" r="2.6" fill="#1b5583"/>
<circle cx="340.10" cy="361.80" r="2.6" fill="#1b5583"/>
<circle cx="337.20" cy="364.70" r="2.6" fill="#1b5583"/>
<circle cx="340.10" cy="369.60" r="2.6" fill="#1b5583"/>
<circle cx="349.30" cy="366.20" r="2.6" fill="#1b5583"/>
<circle cx="346.40" cy="369.10" r="2.6" fill="#1b5583"/>
<circle cx="341.30" cy="377.20" r="2.6" fill="#1b5583"/>
<circle cx="338.40" cy="381.00" r="2.6" fill="#1b5583"/>
<circle cx="344.20" cy="380.80" r="2.6" fill="#1b5583"/>
<circle cx="347.80" cy="381.00" r="2.6" fill="#1b5583"/>
<line x1="337.6" y1="277.6" x2="349.3" y2="277.6" stroke="#223" stroke-width="1" stroke-dasharray="2 1.6"/>
<circle cx="380.50" cy="255.80" r="2.6" fill="#cf1132"/>
<circle cx="383.50" cy="256.50" r="2.6" fill="#cf1132"/>
<circle cx="386.50" cy="257.20" r="2.6" fill="#cf1132"/>
<circle cx="389.50" cy="257.80" r="2.6" fill="#cf1132"/>
<circle cx="392.50" cy="258.20" r="2.6" fill="#cf1132"/>
<circle cx="395.50" cy="258.60" r="2.6" fill="#cf1132"/>
<circle cx="398.50" cy="258.20" r="2.6" fill="#cf1132"/>
<circle cx="401.50" cy="257.80" r="2.6" fill="#cf1132"/>
<circle cx="404.50" cy="257.20" r="2.6" fill="#cf1132"/>
<circle cx="407.50" cy="256.50" r="2.6" fill="#cf1132"/>
<circle cx="410.50" cy="256.00" r="2.6" fill="#cf1132"/>
<circle cx="412.20" cy="257.50" r="2.6" fill="#cf1132"/>
<circle cx="396.00" cy="274.50" r="2.6" fill="#cf1132"/>
<circle cx="396.00" cy="277.50" r="2.6" fill="#cf1132"/>
<circle cx="396.00" cy="280.50" r="2.6" fill="#cf1132"/>
<circle cx="395.20" cy="345.00" r="2.6" fill="#cf1132"/>
<circle cx="396.00" cy="348.00" r="2.6" fill="#cf1132"/>
<circle cx="395.80" cy="369.10" r="2.6" fill="#cf1132"/>
<line x1="308.5" y1="350.5" x2="431.0" y2="350.5" stroke="#222" stroke-width="1" stroke-dasharray="3.4 2.2"/>
<rect x="80" y="447.8" width="371.5" height="29.8" fill="#d3d3d6"/>
<rect x="80" y="509.8" width="371.5" height="29.4" fill="#d3d3d6"/>
<line x1="80.00" y1="423.30" x2="451.50" y2="423.30" stroke="#555" stroke-width="1.2" />
<line x1="80.00" y1="447.10" x2="451.50" y2="447.10" stroke="#555" stroke-width="1.5" />
<line x1="80.00" y1="540.40" x2="451.50" y2="540.40" stroke="#555" stroke-width="1.5" />
<text x="128.2" y="437.8" font-size="8.2" text-anchor="middle" fill="#222" textLength="49.1" lengthAdjust="spacingAndGlyphs" >Median (IQR)</text>
<text x="235.8" y="437.8" font-size="8.2" text-anchor="middle" fill="#222" >No Ema</text>
<text x="333.7" y="437.8" font-size="8.2" text-anchor="middle" fill="#222" >Ema</text>
<text x="416.4" y="437.8" font-size="8.2" text-anchor="middle" fill="#222"><tspan font-style="italic">P</tspan>-Value</text>
<text x="128.4" y="460.2" font-size="8.2" text-anchor="middle" fill="#222" textLength="34.9" lengthAdjust="spacingAndGlyphs" >Minimum</text>
<text x="128.4" y="470.2" font-size="8.2" text-anchor="middle" fill="#222" textLength="49.3" lengthAdjust="spacingAndGlyphs" >chimerism, %</text>
<text x="128.4" y="491.4" font-size="8.2" text-anchor="middle" fill="#222" textLength="65.5" lengthAdjust="spacingAndGlyphs" >Time to minimum</text>
<text x="128.4" y="501.8" font-size="8.2" text-anchor="middle" fill="#222" textLength="60.1" lengthAdjust="spacingAndGlyphs" >chimerism, days</text>
<text x="128.3" y="523.1" font-size="8.2" text-anchor="middle" fill="#222" textLength="45" lengthAdjust="spacingAndGlyphs" >Most recent</text>
<text x="128.3" y="533.0" font-size="8.2" text-anchor="middle" fill="#222" textLength="50.2" lengthAdjust="spacingAndGlyphs" >chimerism, %</text>
<text x="235.8" y="465.0" font-size="8.2" text-anchor="middle" fill="#222" >69 (10-93.9)</text>
<text x="236.3" y="497.0" font-size="8.2" text-anchor="middle" fill="#222" textLength="68.1" lengthAdjust="spacingAndGlyphs" >109.5 (41.8-243.3)</text>
<text x="235.8" y="528.0" font-size="8.2" text-anchor="middle" fill="#222" >82.8 (11.5-99.6)</text>
<text x="333.7" y="465.0" font-size="8.2" text-anchor="middle" fill="#222" textLength="58.9" lengthAdjust="spacingAndGlyphs" >90.4 (61.5-99.3)</text>
<text x="333.7" y="497.0" font-size="8.2" text-anchor="middle" fill="#222" >90 (38.5-200.5)</text>
<text x="333.7" y="528.0" font-size="8.2" text-anchor="middle" fill="#222" >98.8 (85-100)</text>
<text x="415.7" y="465.0" font-size="8.2" text-anchor="middle" fill="#222" >.036</text>
<text x="415.7" y="497.0" font-size="8.2" text-anchor="middle" fill="#222" >.454</text>
<text x="415.7" y="528.0" font-size="8.2" text-anchor="middle" fill="#222" >.029</text>
</svg>
</body></html>
